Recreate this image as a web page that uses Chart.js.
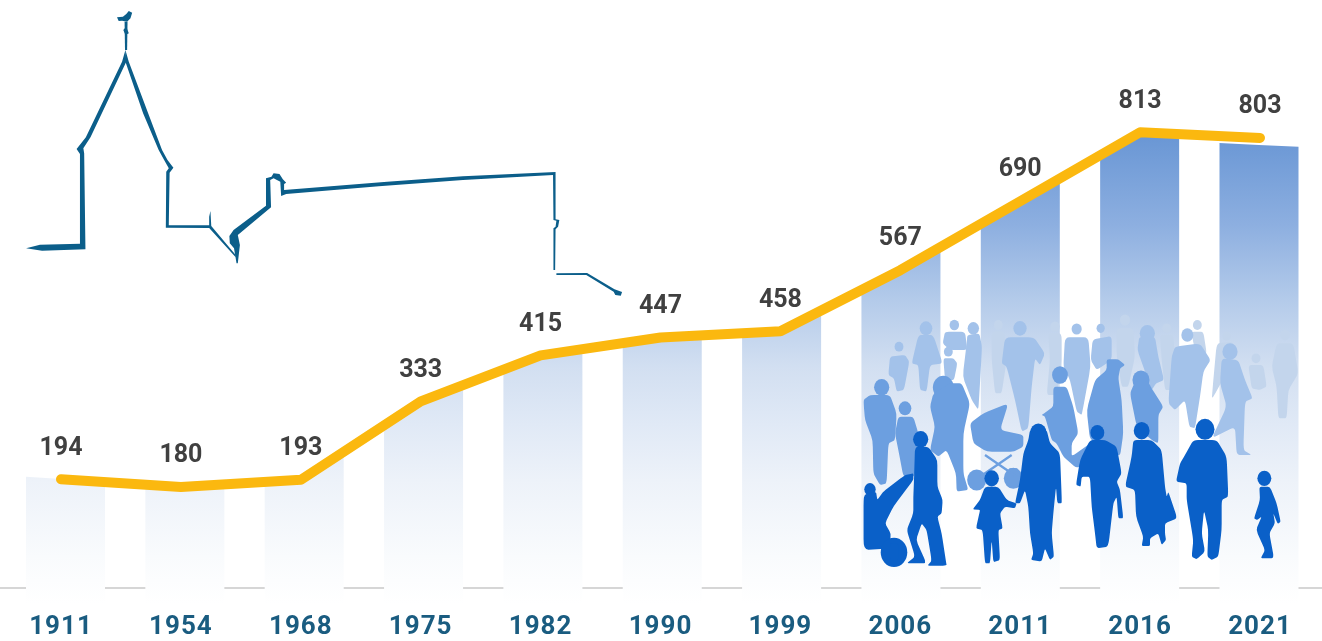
<!DOCTYPE html>
<html><head><meta charset="utf-8">
<script src="https://cdn.jsdelivr.net/npm/chart.js@4"></script>
<style>html,body{margin:0;padding:0;background:#fff;overflow:hidden}canvas{display:block}</style>
</head><body><canvas id="c" width="1322" height="641"></canvas>
<script>
const years = ['1911','1954','1968','1975','1982','1990','1999','2006','2011','2016','2021'];
const population = [194,180,193,333,415,447,458,567,690,813,803];

// Decorative artwork (not data): church outline, in zoom coordinates
const churchShapes = [
 [[62,745],[95,734],[190,731],[190,462],[182,447],[204,412],[290,185],[298,150],[300,185],[215,412],[198,445],[200,460],[203,748],[100,752]],
 [[298,150],[306,185],[352,340],[385,450],[398,480],[412,503],[403,518],[401,676],[497,676],[497,650],[500,633],[502,678],[560,765],[560,772],[497,684],[394,683],[395,515],[401,505],[390,480],[377,450],[340,340],[298,185]],
 [[545,708],[555,690],[632,617],[632,535],[645,530],[650,520],[664,522],[672,538],[680,548],[675,552],[675,570],[920,545],[1100,529],[1320,516],[1320,658],[1329,660],[1326,680],[1320,688],[1319,810],[1315,810],[1315,685],[1320,680],[1322,662],[1315,660],[1314,525],[1100,540],[900,559],[680,582],[668,588],[666,545],[650,535],[642,540],[644,622],[565,705],[570,735],[565,790],[562,790],[556,745],[546,730]],
 [[1322,820],[1395,819],[1460,868],[1478,876],[1475,887],[1462,885],[1458,875],[1393,825],[1322,825]],
 [[296,65],[303,65],[302,150],[297,150]],
 [[293,90],[300,80],[306,100],[298,105]],
 [[278,52],[292,50],[300,42],[306,33],[314,38],[310,55],[302,65],[290,62],[282,63]]
];
// Decorative crowd: each figure = [head x, y, r, body polygon]
const crowdFaint = [
 [445,75,14,[[425,95],[465,95],[470,180],[455,280],[435,280],[425,180]]],
 [615,80,15,[[595,100],[635,100],[635,200],[620,285],[590,285],[600,180]]],
 [825,60,16,[[800,85],[850,85],[855,170],[835,260],[815,260],[800,170]]],
 [950,85,14,[[930,105],[970,105],[975,180],[965,270],[945,270],[935,180]]],
 [1042,75,14,[[1025,95],[1060,95],[1070,160],[1050,180],[1030,130]]],
 [1130,108,13,[[1100,130],[1150,125],[1140,200],[1085,300],[1090,240]]],
 [1218,175,14,[[1195,195],[1240,195],[1250,260],[1230,270],[1205,265]]],
 [1305,105,15,[[1280,130],[1330,130],[1345,220],[1315,270],[1310,355],[1285,355],[1280,260],[1265,200]]]
];
const crowdBack = [
 [147,140,14,[[120,170],[165,165],[178,185],[162,270],[140,275],[132,235],[115,225]]],
 [228,85,20,[[205,105],[250,105],[278,190],[240,195],[230,275],[210,270],[205,195],[185,190]]],
 [313,75,15,[[285,95],[345,95],[352,150],[300,150],[278,130]]],
 [295,155,14,[[280,175],[310,175],[322,190],[312,240],[285,240]]],
 [370,85,18,[[352,105],[388,100],[396,140],[390,250],[385,330],[365,300],[338,230],[350,130]]],
 [510,85,21,[[465,112],[552,112],[585,160],[570,195],[555,175],[545,260],[535,385],[515,395],[495,300],[470,200],[455,190]]],
 [680,87,16,[[645,112],[715,112],[722,200],[700,320],[695,345],[680,335],[660,240],[640,200]]],
 [752,85,13,[[728,118],[785,108],[785,180],[740,210],[722,180]]],
 [892,100,24,[[868,110],[915,110],[925,170],[942,240],[918,250],[905,270],[885,215],[862,150]]],
 [1012,105,19,[[975,140],[1050,130],[1082,180],[1060,215],[1050,290],[1035,385],[1018,380],[1005,300],[975,330],[955,310],[965,170]]],
 [1140,155,24,[[1115,175],[1165,180],[1185,240],[1208,295],[1185,305],[1180,450],[1205,465],[1160,465],[1155,380],[1085,415],[1130,320],[1110,250]]]
];
const crowdMid = [
 [95,262,24,[[60,285],[120,285],[140,340],[135,420],[115,430],[110,550],[90,555],[70,520],[68,420],[45,360],[40,300]]],
 [165,325,20,[[145,350],[190,350],[205,400],[195,530],[160,530],[145,450],[135,400]]],
 [280,262,33,[[250,280],[300,250],[335,250],[360,310],[340,400],[340,520],[355,570],[320,575],[318,520],[290,450],[265,470],[240,450],[255,380],[240,320]]],
 [380,540,30,[[360,370],[400,340],[475,310],[450,390],[520,405],[520,440],[490,455],[410,455],[370,430]]],
 [490,535,30,[[475,505],[505,505],[515,560],[470,560]]],
 [630,225,25,[[610,260],[650,260],[670,320],[685,400],[665,430],[665,470],[735,420],[720,480],[680,505],[640,470],[620,430],[605,420],[585,350],[575,345],[585,338],[610,320]]],
 [790,205,20,[[770,178],[805,178],[825,195],[810,205],[805,235],[815,300],[820,400],[810,470],[780,440],[720,420],[710,330],[735,240],[770,210]]],
 [873,240,27,[[855,245],[895,245],[905,265],[940,320],[925,345],[925,430],[905,420],[860,380],[840,280]]]
];
const crowdFront = [
 [60,568,18,[[40,585],[78,575],[82,600],[100,575],[165,525],[190,520],[190,540],[130,620],[105,670],[122,700],[120,745],[40,750]]],
 [132,757,42,[[120,730],[145,730],[145,780],[120,780]]],
 [212,418,24,[[195,440],[235,440],[262,480],[262,560],[278,600],[275,640],[262,650],[275,700],[288,785],[290,797],[232,797],[245,782],[230,690],[215,670],[198,720],[225,780],[225,790],[170,790],[195,770],[170,690],[190,640],[190,590],[192,540]]],
 [425,535,23,[[405,560],[445,560],[470,600],[500,610],[495,625],[465,620],[450,640],[458,685],[445,690],[450,780],[430,787],[425,720],[420,790],[405,790],[398,690],[378,685],[388,640],[390,630],[368,628],[390,600]]],
 [565,398,26,[[540,390],[590,390],[600,430],[630,460],[635,590],[635,610],[622,610],[618,560],[610,640],[605,700],[612,770],[600,780],[585,745],[575,785],[543,780],[550,760],[540,700],[535,620],[525,570],[510,610],[495,610],[510,540],[520,460],[535,420]]],
 [742,398,22,[[720,420],[765,420],[800,440],[815,520],[800,545],[810,570],[820,655],[805,655],[800,590],[790,610],[775,740],[740,745],[735,700],[725,620],[720,530],[695,530],[692,560],[678,555],[690,480]]],
 [875,392,25,[[850,420],[905,420],[935,450],[945,560],[950,590],[955,575],[982,655],[945,670],[945,700],[948,720],[935,735],[925,700],[900,715],[900,738],[875,738],[880,710],[858,650],[855,570],[825,560],[845,470]]],
 [1065,388,30,[[1030,420],[1100,420],[1130,470],[1135,590],[1115,600],[1115,690],[1105,770],[1085,780],[1072,770],[1075,690],[1062,630],[1055,700],[1065,755],[1040,778],[1025,770],[1030,720],[1010,600],[1010,550],[978,545],[990,490],[1005,465]]],
 [1243,535,22,[[1228,560],[1260,560],[1280,610],[1292,665],[1283,672],[1270,640],[1275,670],[1258,700],[1272,775],[1232,775],[1245,750],[1218,690],[1235,650],[1222,660],[1212,655],[1230,600]]]
];

function poly(ctx, pts){
  ctx.beginPath();
  pts.forEach((p,i)=> i? ctx.lineTo(p[0],p[1]) : ctx.moveTo(p[0],p[1]));
  ctx.closePath(); ctx.fill();
}
function smooth(ctx, pts){
  const n=pts.length;
  ctx.beginPath();
  ctx.moveTo((pts[n-1][0]+pts[0][0])/2,(pts[n-1][1]+pts[0][1])/2);
  for(let i=0;i<n;i++){
    const a=pts[i], b=pts[(i+1)%n], p=pts[(i-1+n)%n];
    ctx.lineTo(a[0]+(p[0]-a[0])*0.2, a[1]+(p[1]-a[1])*0.2);
    ctx.quadraticCurveTo(a[0],a[1],a[0]+(b[0]-a[0])*0.2,a[1]+(b[1]-a[1])*0.2);
  }
  ctx.closePath(); ctx.fill();
}
function crowdLayer(ctx, figs, color){
  ctx.fillStyle=color;
  figs.forEach(f=>{
    ctx.beginPath(); ctx.ellipse(f[0],f[1],f[2]*0.95,f[2]*1.05,0,0,Math.PI*2); ctx.fill();
    smooth(ctx,f[3]);
  });
}

const artwork = {
  id:'artwork',
  beforeDraw(chart){ chart.ctx.letterSpacing='1px'; },
  beforeDatasetsDraw(chart){
    const ctx=chart.ctx, y0=chart.scales.y.getPixelForValue(0);
    ctx.save();
    ctx.strokeStyle='#d6d6d6'; ctx.lineWidth=2;
    ctx.beginPath(); ctx.moveTo(0,y0); ctx.lineTo(1322,y0); ctx.stroke();
    ctx.restore();
  },
  afterDatasetsDraw(chart){
    const ctx=chart.ctx;
    ctx.save();
    ctx.scale(1/2.376,1/3);
    ctx.fillStyle='#0b5e8a';
    churchShapes.forEach(s=>poly(ctx,s));
    ctx.restore();

    ctx.save();
    ctx.translate(850,300); ctx.scale(1/3,1/3);
    ctx.beginPath(); ctx.rect(40,0,1320,1000); ctx.clip();
    crowdLayer(ctx,crowdFaint,'#c3d5ec');
    crowdLayer(ctx,crowdBack,'#a3c2ea');
    crowdLayer(ctx,crowdMid,'#6c9fe0');
    ctx.strokeStyle='#6c9fe0'; ctx.lineWidth=7;
    ctx.beginPath(); ctx.moveTo(405,465); ctx.lineTo(500,530); ctx.moveTo(485,465); ctx.lineTo(390,530); ctx.stroke();
    crowdLayer(ctx,crowdFront,'#0a60c8');
    ctx.restore();

    // value labels above the line
    const line=chart.getDatasetMeta(1).data;
    ctx.save();
    ctx.letterSpacing='0px';
    ctx.font='bold 25px Roboto, "Liberation Sans", sans-serif';
    ctx.fillStyle='#404040'; ctx.textAlign='center'; ctx.textBaseline='middle';
    line.forEach((p,i)=>ctx.fillText(String(population[i]),p.x,p.y-31));
    ctx.restore();
  },
  beforeDatasetDraw(chart,args){
    if(args.index!==0) return;
    const ctx=chart.ctx, meta=chart.getDatasetMeta(0), xs=chart.scales.xb, n=meta.data.length;
    const cx=i=>xs.getPixelForValue(i);
    const w=(cx(1)-cx(0))*0.662;
    const bars=meta.data.map((b,i)=>({x:cx(i),y:b.y,base:b.base}));
    const grad=ctx.createLinearGradient(0,130,0,604);
    grad.addColorStop(0,'#6795d4');
    grad.addColorStop(0.2,'#8dafe0');
    grad.addColorStop(0.36,'#b4cbea');
    grad.addColorStop(0.5,'#d2dff1');
    grad.addColorStop(0.62,'#e0e9f6');
    grad.addColorStop(0.74,'#edf2f9');
    grad.addColorStop(0.9,'#f9fbfd');
    grad.addColorStop(1,'#ffffff');
    const topAt=(x,i)=>{
      let a,b;
      if(x<bars[i].x){ a=bars[Math.max(i-1,0)]; b=bars[Math.max(i-1,0)+1]; }
      else { a=bars[Math.min(i,n-2)]; b=bars[Math.min(i,n-2)+1]; }
      return a.y+(b.y-a.y)*(x-a.x)/(b.x-a.x)+(i===n-1?7:0);
    };
    ctx.save();
    ctx.fillStyle=grad;
    bars.forEach((b,i)=>{
      const l=b.x-w/2, r=b.x+w/2, bottom=b.base+15;
      ctx.beginPath();
      ctx.moveTo(l,bottom); ctx.lineTo(l,topAt(l,i)); ctx.lineTo(b.x,topAt(b.x,i));
      ctx.lineTo(r,topAt(r,i)); ctx.lineTo(r,bottom); ctx.closePath(); ctx.fill();
    });
    ctx.restore();
    return false;
  }
};

new Chart(document.getElementById('c').getContext('2d'),{
  type:'bar',
  data:{
    labels:years,
    datasets:[
      {type:'bar',data:population.map((v,i)=>({x:i,y:v})),backgroundColor:'#8dafe0',barPercentage:0.662,categoryPercentage:1,order:2,xAxisID:'xb',yAxisID:'y'},
      {type:'line',data:population,borderColor:'#fbb80f',borderWidth:10,pointRadius:0,tension:0,
       borderCapStyle:'round',borderJoinStyle:'round',order:1,xAxisID:'x',yAxisID:'y',clip:false}
    ]
  },
  options:{
    responsive:false,animation:false,devicePixelRatio:1,
    layout:{padding:{left:1.05,right:2.05,top:0,bottom:0}},
    plugins:{legend:{display:false},tooltip:{enabled:false},title:{display:false}},
    scales:{
      x:{type:'category',offset:true,grid:{display:false,drawTicks:false},border:{display:false},
         ticks:{color:'#1a5c80',font:{family:'Roboto, "Liberation Sans", sans-serif',weight:'bold',size:26},padding:24,maxRotation:0,autoSkip:false},
         afterFit(s){s.height=53;}},
      xb:{type:'linear',display:false,offset:false,min:-0.54,max:10.5107},
      y:{display:false,min:0,max:1049}
    }
  },
  plugins:[artwork]
});
</script></body></html>
